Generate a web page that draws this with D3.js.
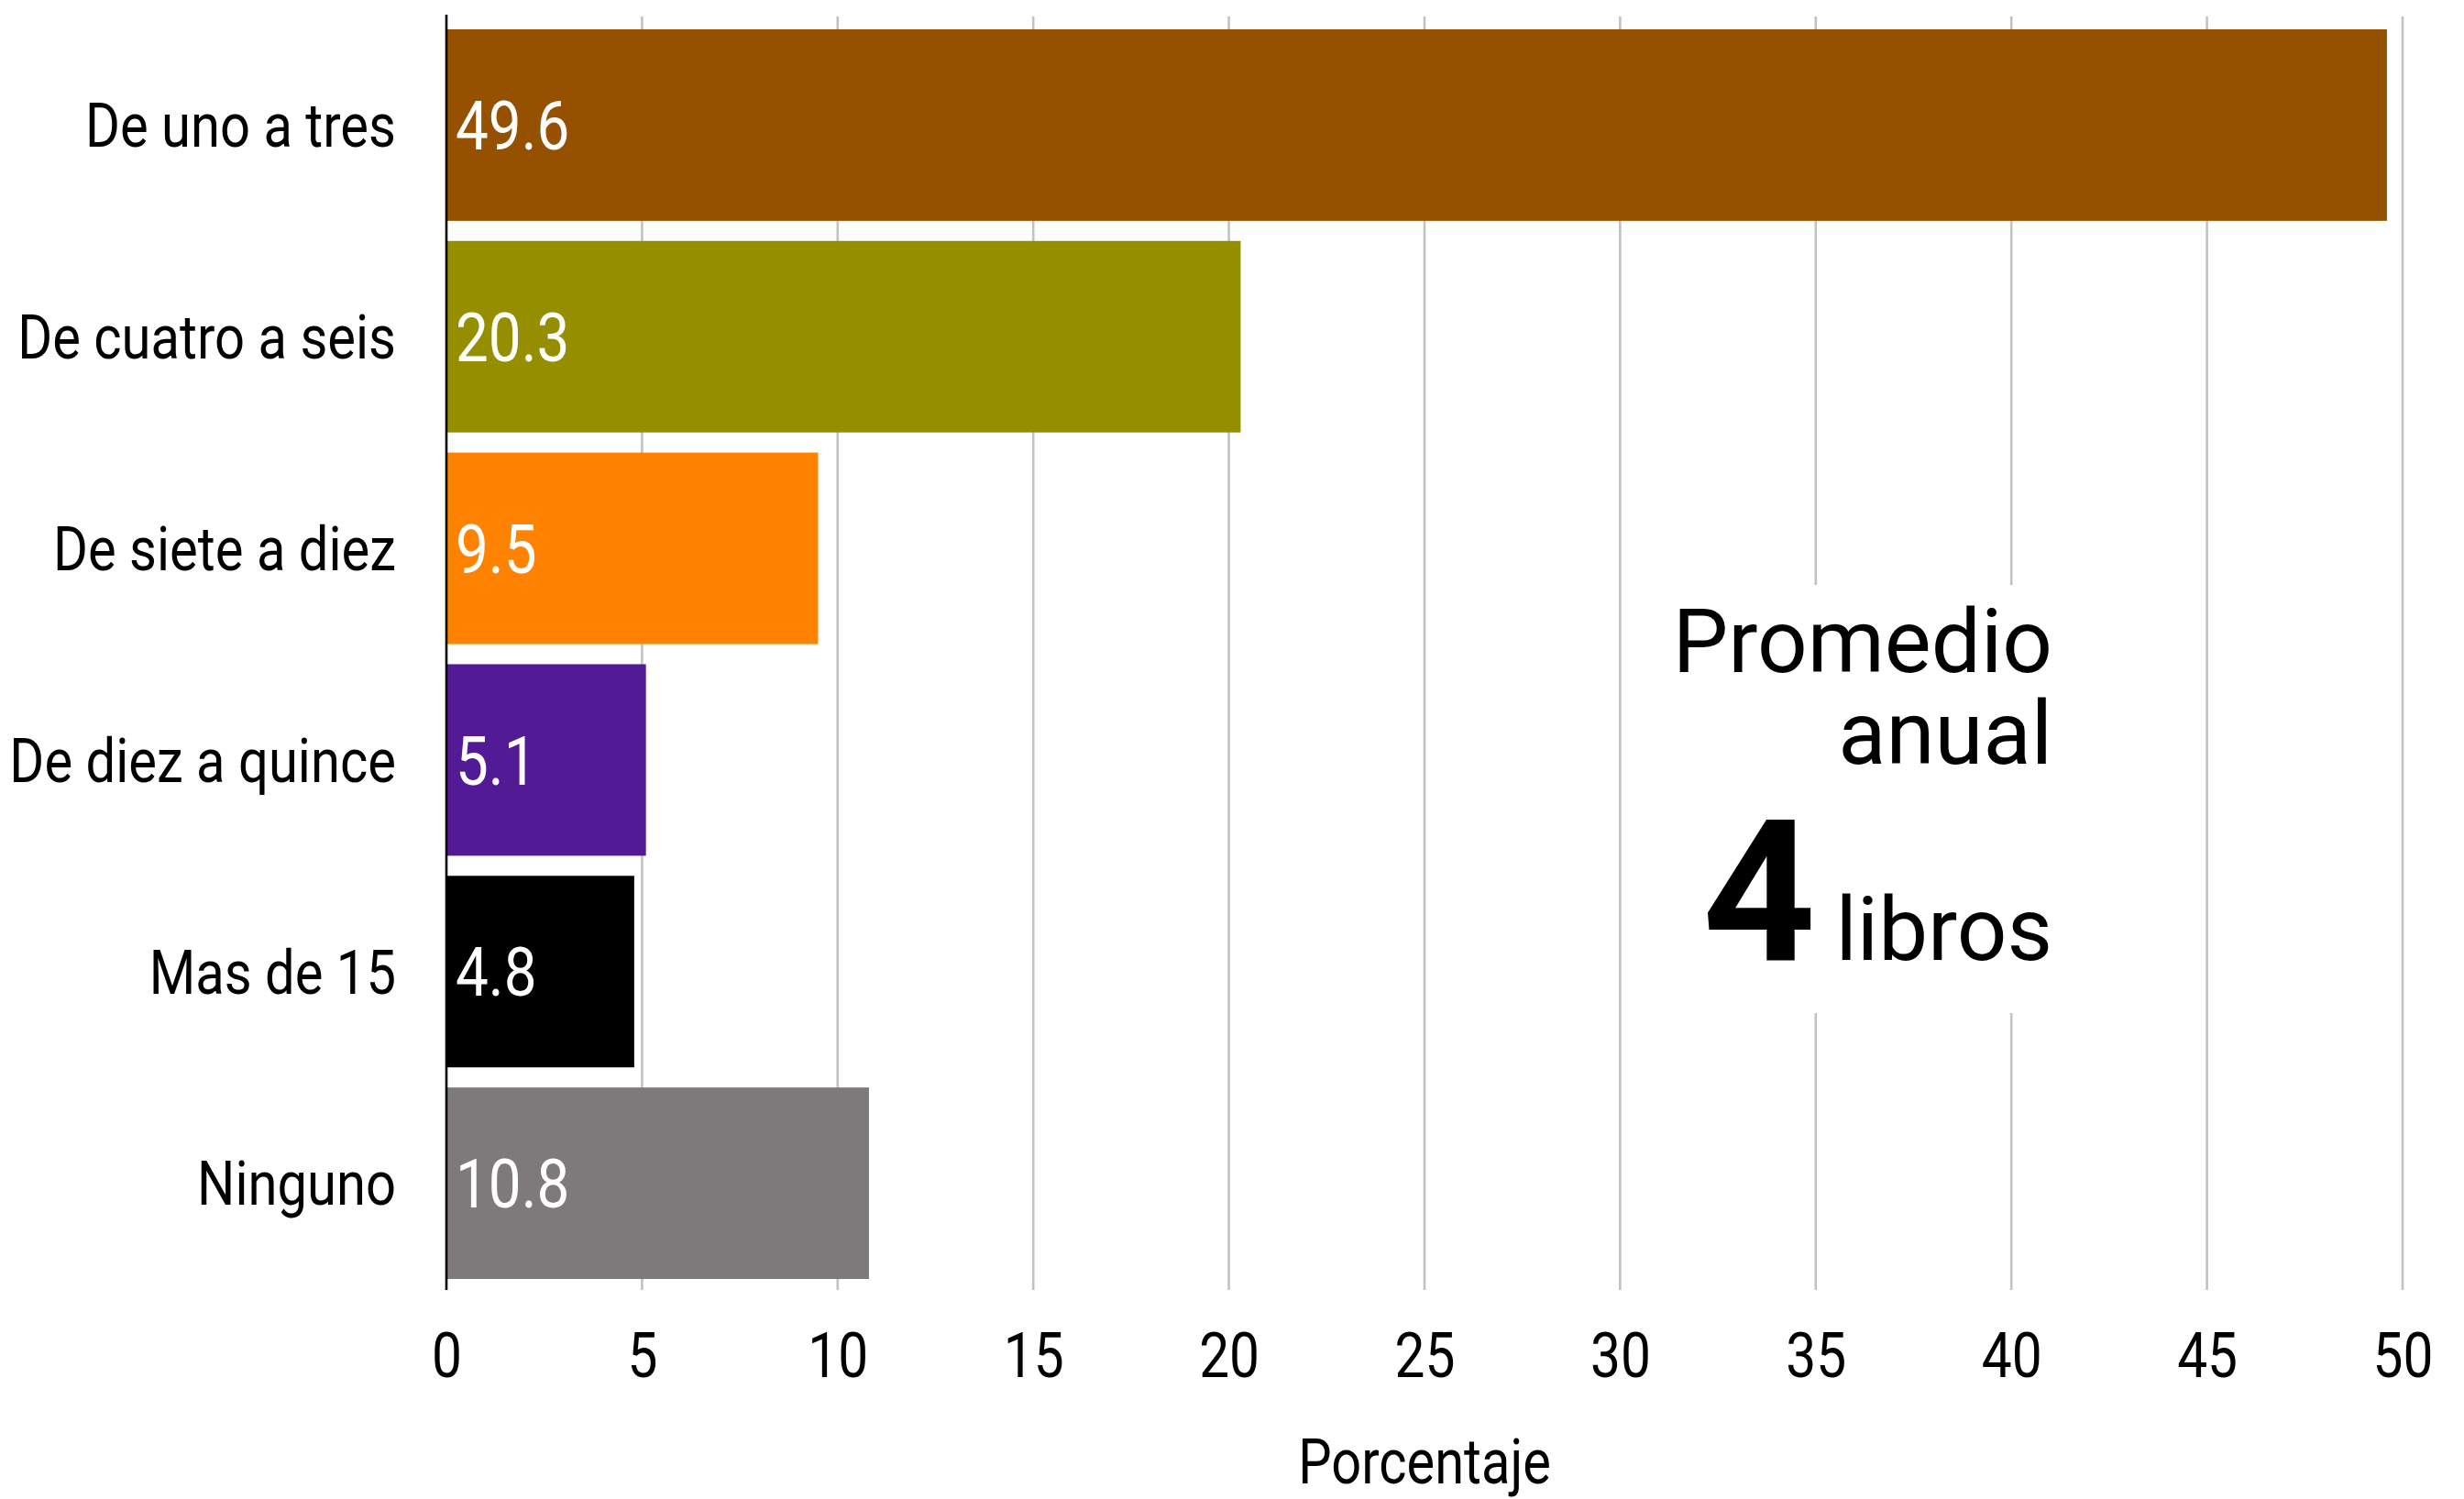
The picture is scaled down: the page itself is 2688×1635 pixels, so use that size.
<!DOCTYPE html>
<html>
<head>
<meta charset="utf-8">
<script src="https://cdn.jsdelivr.net/npm/d3@7"></script>
<style>
  html, body { margin: 0; padding: 0; background: #ffffff; }
  svg { display: block; }
  text { font-family: Roboto, "Noto Sans", sans-serif; }
</style>
</head>
<body>
<svg id="chart" width="2688" height="1635"></svg>
<script>
const categories = ["De uno a tres", "De cuatro a seis", "De siete a diez", "De diez a quince", "Mas de 15", "Ninguno"];
const values = [49.6, 20.3, 9.5, 5.1, 4.8, 10.8];
const barColors = ["#955100", "#958F00", "#FF8300", "#521A94", "#000000", "#7E7A7B"];
const xTicks = [0, 5, 10, 15, 20, 25, 30, 35, 40, 45, 50];
const xTitle = "Porcentaje";
const noteLines = ["Promedio", "anual"];
const noteNumber = "4";
const noteUnit = "libros";

const W = 2688, H = 1635;
const cond = 0.85; // condensed look
const svg = d3.select("#chart");

const x = d3.scaleLinear().domain([0, 50]).range([487, 2621]);
const y = d3.scaleBand().domain(categories).range([21, 1406]).paddingInner(0.095).paddingOuter(0.0475);

const gridTop = 18, gridBottom = 1407;

// gridlines
const grid = svg.append("g").attr("class", "grid");
grid.selectAll("line").data(xTicks.filter(d => d > 0)).join("line")
  .attr("x1", d => x(d)).attr("x2", d => x(d))
  .attr("y1", gridTop).attr("y2", gridBottom)
  .attr("stroke", "#c2c2c2").attr("stroke-width", 2.6);

// annotation background (interrupts gridlines)
svg.append("rect").attr("x", 1815).attr("y", 638).attr("width", 440).attr("height", 467).attr("fill", "#ffffff");

// bars
svg.append("g").selectAll("rect").data(categories).join("rect")
  .attr("x", x(0))
  .attr("y", d => y(d))
  .attr("width", (d, i) => x(values[i]) - x(0))
  .attr("height", y.bandwidth())
  .attr("fill", (d, i) => barColors[i]);

// axis line at 0
svg.append("line").attr("x1", x(0)).attr("x2", x(0)).attr("y1", 16).attr("y2", gridBottom)
  .attr("stroke", "#000").attr("stroke-width", 2.6);

// value labels
const vfs = 75;
svg.append("g").selectAll("g").data(categories).join("g")
  .attr("transform", (d, i) => `translate(${x(0) + 10},${y(d) + y.bandwidth() / 2 + vfs * 0.355}) scale(${cond},1)`)
  .append("text")
  .attr("fill", "#ffffff")
  .attr("font-size", vfs)
  .text((d, i) => values[i].toFixed(1));

// category labels
const cfs = 67;
svg.append("g").selectAll("g").data(categories).join("g")
  .attr("transform", d => `translate(432,${y(d) + y.bandwidth() / 2 + cfs * 0.355}) scale(0.865,1)`)
  .append("text")
  .attr("text-anchor", "end")
  .attr("fill", "#000")
  .attr("font-size", cfs)
  .text(d => d);

// x axis tick labels via d3 axis
const xAxis = d3.axisBottom(x).tickValues(xTicks).tickSize(0).tickPadding(0).tickFormat(d3.format("d"));
const ax = svg.append("g").attr("transform", `translate(0,1478)`).call(xAxis);
ax.select(".domain").remove();
ax.selectAll(".tick text")
  .attr("y", 0).attr("dy", null)
  .attr("font-size", 69)
  .attr("font-family", "Roboto, sans-serif")
  .attr("fill", "#000")
  .attr("transform", `translate(0,${69 * 0.355}) scale(${cond},1)`);

// x title
svg.append("g").attr("transform", `translate(${(x(0) + x(50)) / 2},1618) scale(${cond},1)`)
  .append("text").attr("text-anchor", "middle").attr("font-size", 68).attr("fill", "#000").text(xTitle);

// annotation
const nx = 2239;
const note = svg.append("text").attr("text-anchor", "end").attr("font-size", 96).attr("fill", "#000");
note.append("tspan").attr("x", nx).attr("y", 733).text(noteLines[0]);
note.append("tspan").attr("x", nx).attr("y", 833).text(noteLines[1]);
const note2 = svg.append("text").attr("fill", "#000");
note2.append("tspan").attr("x", 1981).attr("y", 1047).attr("text-anchor", "end").attr("font-size", 216).attr("font-weight", 700).text(noteNumber);
svg.append("text").attr("x", nx).attr("y", 1047).attr("text-anchor", "end").attr("font-size", 96).attr("fill", "#000").text(noteUnit);
</script>
</body>
</html>
